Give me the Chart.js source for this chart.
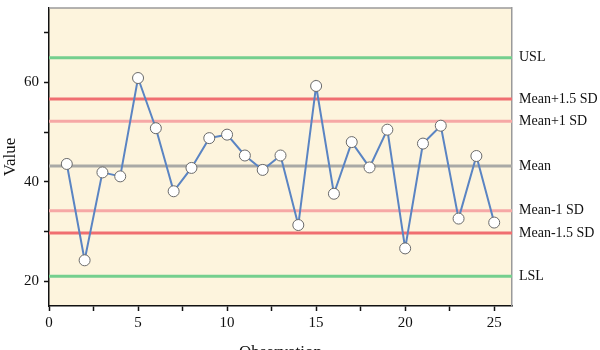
<!DOCTYPE html>
<html>
<head>
<meta charset="utf-8">
<script src="https://cdn.jsdelivr.net/npm/chart.js@4/dist/chart.umd.min.js"></script>
<style>
  html, body { margin: 0; padding: 0; background: #ffffff; }
  #wrap { width: 600px; height: 350px; position: relative; }
</style>
</head>
<body>
<div id="wrap"><canvas id="c" width="600" height="350"></canvas></div>
<script>
// ---- data ----
const observations = [1,2,3,4,5,6,7,8,9,10,11,12,13,14,15,16,17,18,19,20,21,22,23,24,25];
const values = [43.6,24.2,41.9,41.1,60.9,50.8,38.1,42.8,48.8,49.5,45.3,42.4,45.3,31.3,59.3,37.6,48.0,42.9,50.5,26.6,47.7,51.3,32.6,45.2,31.8];
const limitNames = ['USL','Mean+1.5 SD','Mean+1 SD','Mean','Mean-1 SD','Mean-1.5 SD','LSL'];
const limitValues = [65.0,56.7,52.2,43.2,34.2,29.7,21.0];
const limitColors = ['#74cf8e','#f06e71','#f6a8a6','#a9a9a6','#f6a8a6','#f06e71','#74cf8e'];
const xRange = [0, 26];
const yRange = [15, 75];
const xTicks = [0,2.5,5,7.5,10,12.5,15,17.5,20,22.5,25];
const xTickLabels = [0,5,10,15,20,25];
const yTicks = [20,30,40,50,60,70];
const yTickLabels = [20,40,60];

const serif = "'Liberation Serif', 'Times New Roman', serif";

const limitDatasets = limitValues.map((v, i) => ({
  label: limitNames[i],
  data: [{x: xRange[0], y: v}, {x: xRange[1], y: v}],
  borderColor: limitColors[i],
  borderWidth: 3,
  pointRadius: 0,
  showLine: true,
  fill: false,
  order: 2
}));

const mainDataset = {
  label: 'Value',
  data: observations.map((o, i) => ({x: o, y: values[i]})),
  borderColor: '#5a84c3',
  borderWidth: 2,
  pointRadius: 5.5,
  pointBackgroundColor: '#ffffff',
  pointBorderColor: '#6b6b6b',
  pointBorderWidth: 1,
  showLine: true,
  tension: 0,
  order: 1
};

const frame = {
  id: 'frame',
  beforeDraw(chart) {
    const {ctx, chartArea: a} = chart;
    ctx.save();
    ctx.fillStyle = '#fdf4dd';
    ctx.fillRect(a.left, a.top, a.right - a.left, a.bottom - a.top);
    ctx.restore();
  },
  afterDraw(chart) {
    const {ctx, chartArea: a} = chart;
    ctx.save();
    ctx.strokeStyle = '#9a9a9a';
    ctx.lineWidth = 1.5;
    ctx.beginPath();
    ctx.moveTo(a.left, a.top);
    ctx.lineTo(a.right, a.top);
    ctx.stroke();
    ctx.restore();
  }
};

new Chart(document.getElementById('c'), {
  type: 'scatter',
  data: { datasets: [...limitDatasets, mainDataset] },
  plugins: [frame],
  options: {
    responsive: false,
    animation: false,
    layout: { padding: { top: 8, left: 0, right: 0, bottom: 0 } },
    plugins: { legend: { display: false }, tooltip: { enabled: false } },
    scales: {
      x: {
        type: 'linear',
        position: 'bottom',
        min: xRange[0], max: xRange[1],
        afterBuildTicks(s) { s.ticks = xTicks.map(v => ({value: v})); },
        afterFit(s) { s.height = 44; s.paddingLeft = 0; s.paddingRight = 0; },
        ticks: {
          color: '#111',
          font: { family: serif, size: 15 },
          padding: 3,
          maxRotation: 0,
          autoSkip: false,
          callback: (v) => xTickLabels.includes(v) ? String(v) : ''
        },
        grid: { drawOnChartArea: false, drawTicks: true, tickLength: 5, tickColor: '#111', tickWidth: 1.5 },
        border: { display: true, color: '#111', width: 1.5 },
        title: { display: true, text: 'Observation', color: '#111', font: { family: serif, size: 17 }, padding: { top: 0, bottom: -13 } }
      },
      y: {
        type: 'linear',
        position: 'left',
        min: yRange[0], max: yRange[1],
        afterBuildTicks(s) { s.ticks = yTicks.map(v => ({value: v})); },
        afterFit(s) { s.width = 49; s.paddingTop = 0; s.paddingBottom = 0; },
        ticks: {
          color: '#111',
          font: { family: serif, size: 15 },
          padding: 5,
          autoSkip: false,
          callback: (v) => yTickLabels.includes(v) ? String(v) : ''
        },
        grid: { drawOnChartArea: false, drawTicks: true, tickLength: 5, tickColor: '#111', tickWidth: 1.5 },
        border: { display: true, color: '#111', width: 1.5 },
        title: { display: true, text: 'Value', color: '#111', font: { family: serif, size: 17 }, padding: { top: 0, bottom: 0 } }
      },
      y2: {
        type: 'linear',
        position: 'right',
        min: yRange[0], max: yRange[1],
        afterBuildTicks(s) { s.ticks = limitValues.map(v => ({value: v})); },
        afterFit(s) { s.width = 88; s.paddingTop = 0; s.paddingBottom = 0; },
        ticks: {
          color: '#111',
          font: { family: serif, size: 14 },
          padding: 7,
          autoSkip: false,
          callback: (v) => { const i = limitValues.indexOf(v); return i >= 0 ? limitNames[i] : ''; }
        },
        grid: { drawOnChartArea: false, drawTicks: false },
        border: { display: true, color: '#9a9a9a', width: 1.5 }
      }
    }
  }
});
</script>
</body>
</html>
